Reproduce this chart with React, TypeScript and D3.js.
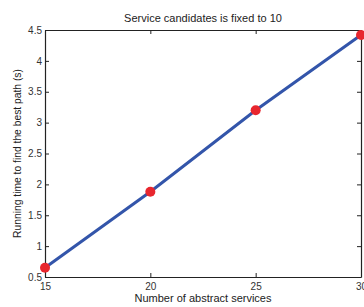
import React, { useEffect, useRef } from "react";
import * as d3 from "d3";

const abstractServices = [15, 20, 25, 30];
const runningTime = [0.65, 1.88, 3.2, 4.42];
const xTicks = [15, 20, 25, 30];
const yTicks = [0.5, 1, 1.5, 2, 2.5, 3, 3.5, 4, 4.5];

const width = 364,
  height = 307;
const margin = { top: 30, right: 3, bottom: 30, left: 45 };

const drawChart = (svgEl: SVGSVGElement) => {
  const svg = d3.select(svgEl);
  svg.selectAll("*").remove();

  const w = width - margin.left - margin.right;
  const h = height - margin.top - margin.bottom;

  const x = d3.scaleLinear().domain([15, 30]).range([0, w]);
  const y = d3.scaleLinear().domain([0.5, 4.5]).range([h, 0]);

  const g = svg.append("g").attr("transform", `translate(${margin.left},${margin.top})`);

  // inward ticks on all four sides, matlab style
  const tickLen = 4;
  const xAxisB = d3.axisBottom(x).tickValues(xTicks).tickSizeInner(-tickLen).tickSizeOuter(0).tickPadding(6);
  const xAxisT = d3.axisTop(x).tickValues(xTicks).tickSizeInner(-tickLen).tickSizeOuter(0).tickFormat(() => "");
  const yAxisL = d3.axisLeft(y).tickValues(yTicks).tickSizeInner(-tickLen).tickSizeOuter(0).tickPadding(3)
    .tickFormat(d => d3.format("")(d as number));
  const yAxisR = d3.axisRight(y).tickValues(yTicks).tickSizeInner(-tickLen).tickSizeOuter(0).tickFormat(() => "");

  const axes = [
    g.append("g").attr("transform", `translate(0,${h})`).call(xAxisB),
    g.append("g").call(xAxisT),
    g.append("g").call(yAxisL),
    g.append("g").attr("transform", `translate(${w},0)`).call(yAxisR),
  ];
  axes.forEach(a => {
    a.selectAll("path").attr("stroke", "#222").attr("stroke-width", 1.2);
    a.selectAll("line").attr("stroke", "#222");
    a.selectAll("text").attr("fill", "#333").style("font-size", "10px").style("font-family", "Liberation Sans, Arial, sans-serif");
  });

  const pts = abstractServices.map((s, i) => [s, runningTime[i]] as [number, number]);

  const line = d3.line<[number, number]>().x(d => x(d[0])).y(d => y(d[1]));
  g.append("path")
    .datum(pts)
    .attr("d", line)
    .attr("fill", "none")
    .attr("stroke", "#3355aa")
    .attr("stroke-width", 3);

  g.selectAll("circle.pt")
    .data(pts)
    .enter()
    .append("circle")
    .attr("class", "pt")
    .attr("cx", d => x(d[0]))
    .attr("cy", d => y(d[1]))
    .attr("r", 5)
    .attr("fill", "#e8262e");

  const font = "Liberation Sans, Arial, sans-serif";
  svg.append("text")
    .attr("x", margin.left + w / 2)
    .attr("y", 22)
    .attr("text-anchor", "middle")
    .attr("fill", "#222")
    .style("font-size", "11px")
    .style("font-family", font)
    .text("Service candidates is fixed to 10");

  svg.append("text")
    .attr("x", margin.left + w / 2)
    .attr("y", 302)
    .attr("text-anchor", "middle")
    .attr("fill", "#222")
    .style("font-size", "11px")
    .style("font-family", font)
    .text("Number of abstract services");

  svg.append("text")
    .attr("transform", `translate(21,${margin.top + h / 2}) rotate(-90)`)
    .attr("text-anchor", "middle")
    .attr("fill", "#222")
    .style("font-size", "10.3px")
    .style("font-family", font)
    .text("Running time to find the best path (s)");
};

export default function App() {
  const ref = useRef<SVGSVGElement>(null);
  useEffect(() => {
    if (ref.current) drawChart(ref.current);
  }, []);
  return (
    <div style={{ position: "fixed", left: 0, top: 0, background: "#fff" }}>
      <svg ref={ref} width={width} height={height} style={{ display: "block" }} />
    </div>
  );
}
